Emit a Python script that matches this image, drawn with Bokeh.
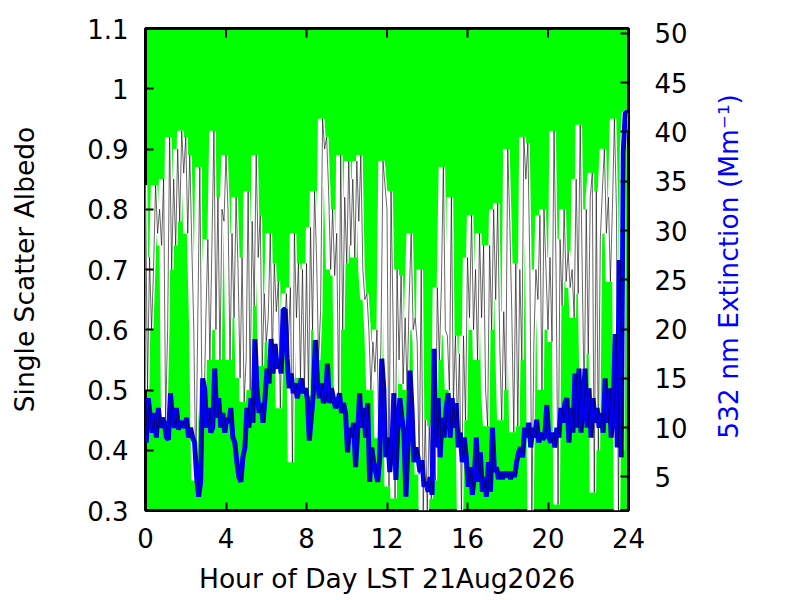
import numpy as np
from bokeh.plotting import figure
from bokeh.layouts import row
from bokeh.models import LinearAxis, Range1d, FixedTicker, ColumnDataSource
from bokeh.transform import dodge
from bokeh.embed import file_html
from bokeh.resources import INLINE

# time axis: one sample every 0.1 hour
hours = np.round(np.arange(241) * 0.1, 1)

albedo = [
    0.84, 0.50, 0.72, 0.60, 0.70, 0.84, 0.76, 0.80, 0.74, 0.85,
    0.45, 0.60, 0.92, 0.70, 0.85, 0.74, 0.90, 0.78, 0.93, 0.86,
    0.92, 0.76, 0.89, 0.74, 0.60, 0.35, 0.62, 0.87, 0.50, 0.45,
    0.62, 0.75, 0.55, 0.74, 0.93, 0.60, 0.82, 0.55, 0.80, 0.78,
    0.89, 0.80, 0.55, 0.76, 0.62, 0.82, 0.70, 0.52, 0.72, 0.48,
    0.55, 0.83, 0.50, 0.78, 0.64, 0.89, 0.72, 0.79, 0.54, 0.66,
    0.58, 0.62, 0.76, 0.55, 0.71, 0.63, 0.68, 0.47, 0.63, 0.60,
    0.66, 0.58, 0.67, 0.38, 0.76, 0.62, 0.71, 0.52, 0.70, 0.50,
    0.71, 0.49, 0.77, 0.60, 0.83, 0.72, 0.55, 0.63, 0.95, 0.90,
    0.92, 0.83, 0.70, 0.80, 0.69, 0.76, 0.47, 0.89, 0.60, 0.82,
    0.71, 0.88, 0.74, 0.85, 0.72, 0.88, 0.78, 0.89, 0.70, 0.65,
    0.66, 0.60, 0.50, 0.58, 0.53, 0.60, 0.42, 0.58, 0.88, 0.84,
    0.80, 0.34, 0.83, 0.62, 0.32, 0.70, 0.55, 0.69, 0.51, 0.62,
    0.50, 0.65, 0.76, 0.60, 0.62, 0.58, 0.36, 0.70, 0.30, 0.45,
    0.30, 0.44, 0.32, 0.42, 0.35, 0.67, 0.55, 0.67, 0.87, 0.60,
    0.59, 0.50, 0.82, 0.48, 0.59, 0.44, 0.56, 0.30, 0.59, 0.45,
    0.72, 0.62, 0.79, 0.60, 0.70, 0.55, 0.76, 0.62, 0.74, 0.50,
    0.44, 0.74, 0.60, 0.80, 0.65, 0.81, 0.58, 0.45, 0.63, 0.50,
    0.90, 0.78, 0.63, 0.43, 0.71, 0.44, 0.70, 0.55, 0.92, 0.85,
    0.91, 0.70, 0.30, 0.58, 0.70, 0.65, 0.79, 0.50, 0.80, 0.70,
    0.60, 0.72, 0.58, 0.93, 0.70, 0.31, 0.75, 0.64, 0.80, 0.68,
    0.73, 0.67, 0.70, 0.62, 0.85, 0.66, 0.94, 0.70, 0.48, 0.80,
    0.56, 0.82, 0.86, 0.33, 0.83, 0.40, 0.75, 0.83, 0.90, 0.76,
    0.82, 0.68, 0.80, 0.95, 0.80, 0.30, 0.70, 0.40, 0.90, 0.96,
    0.96,
]

extinction = [
    13.0, 8.5, 13.0, 11.0, 9.5, 11.5, 9.0, 12.0, 10.0, 11.0,
    10.5, 9.0, 8.8, 13.5, 11.0, 10.0, 12.0, 9.8, 10.5, 10.5,
    10.0, 11.0, 9.0, 10.0, 9.0, 8.5, 5.0, 3.0, 4.5, 15.0,
    14.0, 10.0, 12.0, 9.5, 10.0, 16.0, 11.0, 13.0, 10.0, 11.5,
    9.5, 11.0, 10.5, 12.0, 9.0, 8.5, 6.5, 5.0, 4.5, 7.0,
    8.0, 12.0, 10.0, 13.0, 10.5, 19.0, 14.0, 11.5, 12.5, 10.5,
    13.0, 16.0, 14.5, 19.0, 15.5, 18.5, 16.0, 17.0, 15.5, 22.0,
    22.0, 17.0, 14.0, 15.5, 13.5, 14.5, 13.0, 14.0, 15.0, 13.5,
    14.0, 13.0, 8.7, 11.0, 13.5, 18.9, 15.0, 13.0, 14.5, 12.5,
    13.0, 16.5, 12.5, 14.0, 13.0, 12.0, 12.5, 13.5, 11.5, 12.5,
    11.5, 7.5, 10.0, 9.0, 10.5, 6.0, 9.5, 13.5, 10.0, 12.0,
    9.0, 12.5, 4.5, 8.0, 6.5, 5.5, 4.5, 7.0, 17.0, 14.0,
    7.0, 9.0, 5.5, 8.0, 13.5, 4.7, 10.0, 13.0, 11.0, 9.5,
    3.0, 8.0, 15.8, 12.0, 6.5, 8.0, 7.0, 5.5, 6.7, 4.0,
    4.5, 3.5, 5.0, 3.2, 18.0, 8.0, 13.0, 7.0, 11.0, 9.0,
    12.0, 13.5, 9.0, 13.0, 10.0, 12.5, 8.0, 9.5, 6.5, 9.0,
    7.0, 4.0, 6.0, 3.2, 5.0, 9.0, 4.5, 7.5, 3.5, 5.0,
    3.0, 6.5, 3.5, 10.0, 5.5, 6.0, 4.8, 5.5, 4.8, 5.5,
    5.0, 5.5, 4.8, 5.5, 5.0, 6.5, 7.5, 8.0, 7.0, 10.0,
    9.0, 10.5, 8.0, 10.0, 9.0, 10.8, 8.5, 9.5, 8.8, 9.2,
    12.3, 9.0, 8.5, 9.5, 8.0, 10.0, 9.0, 12.0, 10.5, 12.5,
    13.0, 8.5, 12.0, 9.5, 15.5, 10.0, 16.0, 9.5, 12.5, 16.0,
    10.0, 14.0, 9.0, 13.0, 10.5, 12.0, 10.0, 11.5, 9.5, 15.0,
    10.5, 14.0, 9.0, 12.0, 19.5, 8.0, 27.0, 7.0, 38.0, 42.0,
    42.0,
]

x_ticks = [0, 4, 8, 12, 16, 20, 24]
alb_ticks = [0.3, 0.4, 0.5, 0.6, 0.7, 0.8, 0.9, 1.0, 1.1]
alb_tick_labels = ["0.3", "0.4", "0.5", "0.6", "0.7", "0.8", "0.9", "1", "1.1"]
ext_ticks = [5, 10, 15, 20, 25, 30, 35, 40, 45, 50]

x_title = "Hour of Day LST 21Aug2026"
y_title = "Single Scatter Albedo"
y2_title = "532 nm Extinction (Mm\u207b\u00b9)"

FONT = "DejaVu Sans"
TICK_SIZE = "26px"
LABEL_SIZE = "26.5px"
H = 596

src = ColumnDataSource(dict(hours=hours, albedo=albedo, extinction=extinction))

p = figure(width=700, height=H, output_backend="svg", toolbar_location=None,
           x_range=Range1d(0, 24), y_range=Range1d(0.3, 1.1),
           background_fill_color="#00ff00", border_fill_color="white",
           min_border_left=145, min_border_right=72,
           min_border_top=28, min_border_bottom=H - 510,
           outline_line_color="black", outline_line_width=3)
p.extra_y_ranges = {"ext": Range1d(1.6, 50.5)}
p.grid.visible = False


def style(ax):
    ax.axis_line_color = None
    ax.major_tick_in = 8
    ax.major_tick_out = 0
    ax.major_tick_line_width = 2
    ax.major_tick_line_color = "black"
    ax.minor_tick_line_color = None
    ax.major_label_text_font = FONT
    ax.major_label_text_font_size = TICK_SIZE
    ax.major_label_text_color = "black"
    ax.axis_label_text_font = FONT
    ax.axis_label_text_font_size = LABEL_SIZE
    ax.axis_label_text_font_style = "normal"
    ax.axis_label_text_color = "black"


xa = p.xaxis[0]
xa.ticker = FixedTicker(ticks=x_ticks)
xa.axis_label = x_title
style(xa)
xa.major_label_standoff = 17
xa.axis_label_standoff = 12

ya = p.yaxis[0]
ya.ticker = FixedTicker(ticks=alb_ticks)
ya.major_label_overrides = {t: s for t, s in zip(alb_ticks, alb_tick_labels)}
ya.axis_label = y_title
style(ya)
ya.major_label_standoff = 17
ya.axis_label_standoff = 44

ra = LinearAxis(y_range_name="ext", ticker=FixedTicker(ticks=ext_ticks))
style(ra)
ra.major_label_standoff = 26
p.add_layout(ra, "right")

# mirrored x ticks along the top edge of the frame
top_y = alb_ticks[-1]
tick_len = 9 * (alb_ticks[-1] - alb_ticks[0]) / 482
p.segment(x0=x_ticks, y0=[top_y] * len(x_ticks), x1=x_ticks,
          y1=[top_y - tick_len] * len(x_ticks), line_color="black", line_width=2,
          level="overlay")

# thick coloured stroke drawn slightly left of its thin black trace (as in the original raster)
p.line(x=dodge("hours", -0.07, range=p.x_range), y="albedo", source=src,
       line_color="white", line_width=6.5)
p.line(x="hours", y="albedo", source=src, line_color="black", line_width=0.6)
p.line(x=dodge("hours", -0.06, range=p.x_range), y="extinction", source=src,
       y_range_name="ext", line_color="#0000ff", line_width=5)
p.line(x="hours", y="extinction", source=src, y_range_name="ext",
       line_color="black", line_width=0.5)

# right-hand axis title, reading bottom-to-top as in the reference
q = figure(width=80, height=H, output_backend="svg", toolbar_location=None,
           x_range=Range1d(0, 80), y_range=p.y_range,
           x_axis_location=None, y_axis_location=None,
           min_border_left=0, min_border_right=0,
           min_border_top=28, min_border_bottom=H - 510,
           outline_line_color=None, background_fill_color="white",
           border_fill_color="white")
q.grid.visible = False
q.text(x=[28], y=[0.705], text=[y2_title], angle=np.pi / 2,
       text_align="center", text_baseline="middle", text_color="#0000ff",
       text_font={"value": FONT}, text_font_size=LABEL_SIZE)

layout = row(p, q)
open("out.html", "w").write(file_html(layout, INLINE))
